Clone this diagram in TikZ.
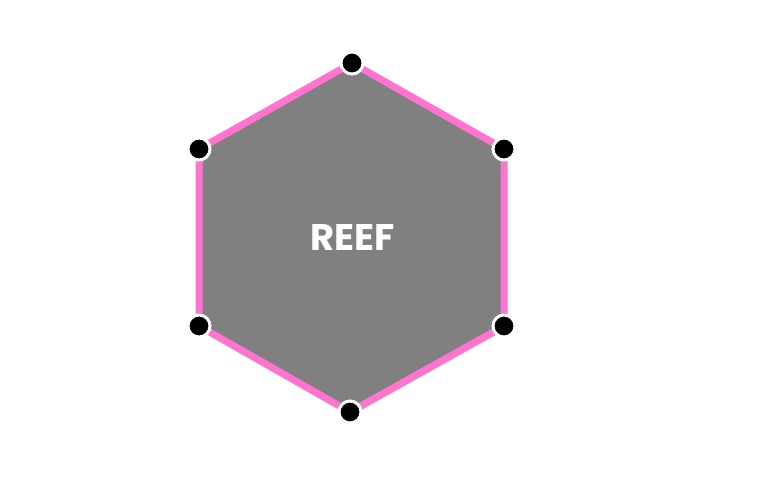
\documentclass[tikz,border=0pt]{standalone}
\usepackage{fontspec}
\setmainfont{Poppins}
\usetikzlibrary{shadows}
\definecolor{reefpink}{HTML}{FF74CF}
\definecolor{reefgray}{HTML}{808080}
\tikzset{
  hexface/.style={fill=reefgray, draw=reefpink, line width=7pt,
    drop shadow={shadow xshift=1.5pt, shadow yshift=-3.5pt, fill=black!40, opacity=.6}},
  cornerdot/.style={circle, fill=black, draw=white, line width=3pt,
    inner sep=0pt, minimum size=22pt},
}
\begin{document}
\begin{tikzpicture}[x=1pt, y=-1pt]
  \useasboundingbox (0,0) rectangle (772,480);
  % corners of the hexagon
  \coordinate (n)  at (352,63);
  \coordinate (ne) at (504,149);
  \coordinate (se) at (504,326);
  \coordinate (s)  at (350,412);
  \coordinate (sw) at (199,326);
  \coordinate (nw) at (199,149);
  % the face
  \path[hexface] (n) -- (ne) -- (se) -- (s) -- (sw) -- (nw) -- cycle;
  \node[text=white, font=\bfseries\fontsize{37}{37}\selectfont] (reef) at (353,238) {REEF};
  % corner dots
  \foreach \c in {n, ne, se, s, sw, nw}
    \node[cornerdot] (dot-\c) at (\c) {};
\end{tikzpicture}
\end{document}
